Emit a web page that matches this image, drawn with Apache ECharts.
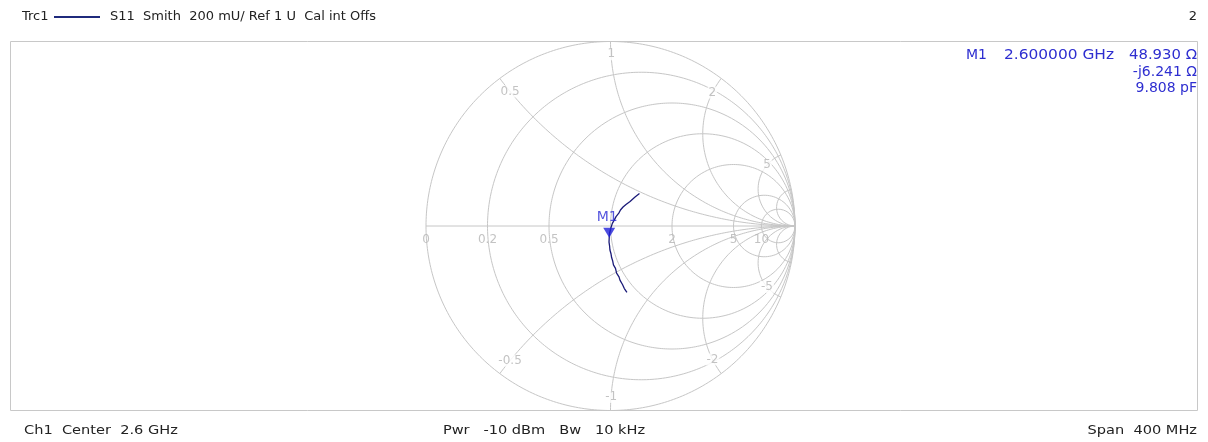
<!DOCTYPE html>
<html><head><meta charset="utf-8">
<script src="https://cdn.jsdelivr.net/npm/echarts@6/dist/echarts.min.js"></script>
<style>html,body{margin:0;padding:0;background:#fff;}#c{width:1208px;height:442px;}</style>
</head><body><div id="c"></div>
<script>
// ---- Smith chart grid values ----
const resistanceCircles = [0, 0.2, 0.5, 1, 2, 5, 10];
const reactanceArcs = [0.5, 1, 2, 5, 10, -0.5, -1, -2, -5, -10];
const resistanceLabels = ['0', '0.2', '0.5', '2', '5', '10'];
const resistanceLabelValues = [0, 0.2, 0.5, 2, 5, 10];
const reactanceLabels = ['0.5', '1', '2', '5', '-0.5', '-1', '-2', '-5'];
const reactanceLabelValues = [0.5, 1, 2, 5, -0.5, -1, -2, -5];

// ---- S11 trace (reflection coefficient) ----
const traceRe = [0.157, 0.133, 0.106, 0.084, 0.068, 0.054, 0.045, 0.030, 0.021, 0.010, 0.002, -0.005, -0.007,
                 -0.008, -0.005, -0.003, 0.003, 0.006, 0.012, 0.016, 0.027, 0.033, 0.046, 0.052, 0.065, 0.075, 0.089];
const traceIm = [0.176, 0.157, 0.133, 0.117, 0.103, 0.087, 0.070, 0.051, 0.033, 0.014, -0.011, -0.038, -0.064,
                 -0.087, -0.108, -0.130, -0.152, -0.171, -0.190, -0.211, -0.230, -0.255, -0.276, -0.295, -0.317, -0.339, -0.360];

// ---- marker ----
const markerName = 'M1';
const markerRe = [-0.007];
const markerIm = [-0.064];
const markerFreq = '2.600000 GHz';
const markerValues = ['48.930 \u03a9', '-j6.241 \u03a9', '9.808 pF'];

// ---- header / footer texts ----
const headerTrace = 'Trc1';
const headerInfo = 'S11  Smith  200 mU/ Ref 1 U  Cal int Offs';
const headerRight = '2';
const footerLeft = 'Ch1  Center  2.6 GHz';
const footerMid = 'Pwr   -10 dBm   Bw   10 kHz';
const footerRight = 'Span  400 MHz';

const GRID_COLOR = '#c6c6c6';
const LABEL_COLOR = '#b4b4b4';
const FONT = '"DejaVu Sans", "Open Sans", sans-serif';

function zToGamma(r, x) {
  const den = (r + 1) * (r + 1) + x * x;
  return [(r * r - 1 + x * x) / den, 2 * x / den];
}
function circlePoints(r) {
  const c = r / (1 + r), R = 1 / (1 + r), pts = [];
  for (let i = 0; i <= 360; i++) {
    const a = i * Math.PI / 180;
    pts.push([c + R * Math.cos(a), R * Math.sin(a)]);
  }
  return pts;
}
function arcPoints(x) {
  const pts = [];
  const N = 600;
  for (let i = 0; i < N; i++) {
    const phi = (i / N) * Math.PI / 2;
    pts.push(zToGamma(Math.tan(phi), x));
  }
  pts.push([1, 0]);
  return pts;
}
function labelPointOnArc(x, g) {
  const k = g * g;
  const r = (2 * (1 + k) - Math.sqrt(4 * (1 + k) * (1 + k) - 4 * (1 - k) * (1 - k) * (1 + x * x))) / (2 * (1 - k));
  return zToGamma(Math.max(r, 0), x);
}

const series = [];
const gridLine = (data) => ({
  type: 'line', data, showSymbol: false, silent: true, animation: false,
  lineStyle: { color: GRID_COLOR, width: 1 }, z: 1
});
resistanceCircles.forEach(r => series.push(gridLine(circlePoints(r))));
reactanceArcs.forEach(x => series.push(gridLine(arcPoints(x))));
series.push(gridLine([[-1, 0], [1, 0]]));

// resistance labels on the real axis
series.push({
  type: 'scatter', silent: true, animation: false, symbolSize: 1, z: 3,
  itemStyle: { color: 'rgba(0,0,0,0)' },
  data: resistanceLabelValues.map((r, i) => [(r - 1) / (r + 1), 0, resistanceLabels[i]]),
  label: { show: true, position: 'inside', offset: [0, 14], formatter: p => p.value[2],
           color: LABEL_COLOR, fontSize: 12, fontFamily: FONT }
});
// reactance labels near the rim
series.push({
  type: 'scatter', silent: true, animation: false, symbolSize: 1, z: 3,
  itemStyle: { color: 'rgba(0,0,0,0)' },
  data: reactanceLabelValues.map((x, i) => {
    const p = labelPointOnArc(x, 0.91);
    return { value: [p[0], p[1], reactanceLabels[i]],
             label: { offset: [0, x === 1 ? -4 : (x === -1 ? 3 : 0)] } };
  }),
  label: { show: true, position: 'inside', formatter: p => p.value[2],
           color: LABEL_COLOR, fontSize: 12, fontFamily: FONT,
           backgroundColor: '#fff', padding: [0, 1] }
});

// trace
series.push({
  type: 'line', name: 'Trc1', animation: false, showSymbol: false, z: 5,
  data: traceRe.map((v, i) => [v, traceIm[i]]),
  lineStyle: { color: '#1a1a78', width: 1.3 }
});
// marker triangle
series.push({
  type: 'scatter', animation: false, z: 6,
  symbol: 'triangle', symbolRotate: 180, symbolSize: [12, 10], symbolOffset: [0, -5],
  itemStyle: { color: '#1f1fd8' },
  data: markerRe.map((v, i) => [v, markerIm[i]])
});
// marker label
series.push({
  type: 'scatter', animation: false, z: 7, symbolSize: 1,
  itemStyle: { color: 'rgba(0,0,0,0)' },
  data: markerRe.map((v, i) => [v, markerIm[i]]),
  label: { show: true, position: 'inside', offset: [-2, -20], formatter: markerName,
           color: '#2a2ad6', fontSize: 14, fontFamily: FONT }
});

function txt(text, x, y, align, color, size, sx) {
  return { type: 'text', silent: true, z: 10, x, y, scaleX: sx || 1, scaleY: 1,
    style: { text, x: 0, y: 0, fill: color, font: size + 'px ' + FONT,
             textAlign: align, textVerticalAlign: 'middle', align: align, verticalAlign: 'middle' } };
}

const RO = '#2e2ed0';
const FS = 1.12;
const graphic = [
  { type: 'rect', silent: true, z: 0, shape: { x: 10.5, y: 41.5, width: 1187, height: 369 },
    style: { fill: 'none', stroke: '#c8c8c8', lineWidth: 1 } },
  txt(headerTrace, 22, 17, 'left', '#222', 13),
  { type: 'line', silent: true, z: 10, shape: { x1: 54, y1: 17, x2: 100, y2: 17 },
    style: { stroke: '#1f2a7c', lineWidth: 2 } },
  txt(headerInfo, 110, 17, 'left', '#222', 13),
  txt(headerRight, 1197, 17, 'right', '#222', 13),
  txt(markerName, 966, 55, 'left', RO, 14),
  txt(markerFreq, 1114, 55, 'right', RO, 14, 1.1),
  txt(markerValues[0], 1197, 55, 'right', RO, 14, 1.06),
  txt(markerValues[1], 1197, 72, 'right', RO, 14),
  txt(markerValues[2], 1197, 88, 'right', RO, 14),
  txt(footerLeft, 24, 431, 'left', '#222', 13, FS),
  txt(footerMid, 544, 431, 'center', '#222', 13, FS),
  txt(footerRight, 1197, 431, 'right', '#222', 13, FS)
];

const chart = echarts.init(document.getElementById('c'), null, { renderer: 'canvas' });
chart.setOption({
  animation: false,
  backgroundColor: '#fff',
  grid: { left: 426, top: 41.5, width: 369, height: 369 },
  xAxis: { type: 'value', min: -1, max: 1, show: false },
  yAxis: { type: 'value', min: -1, max: 1, show: false },
  graphic,
  series
});
</script></body></html>
